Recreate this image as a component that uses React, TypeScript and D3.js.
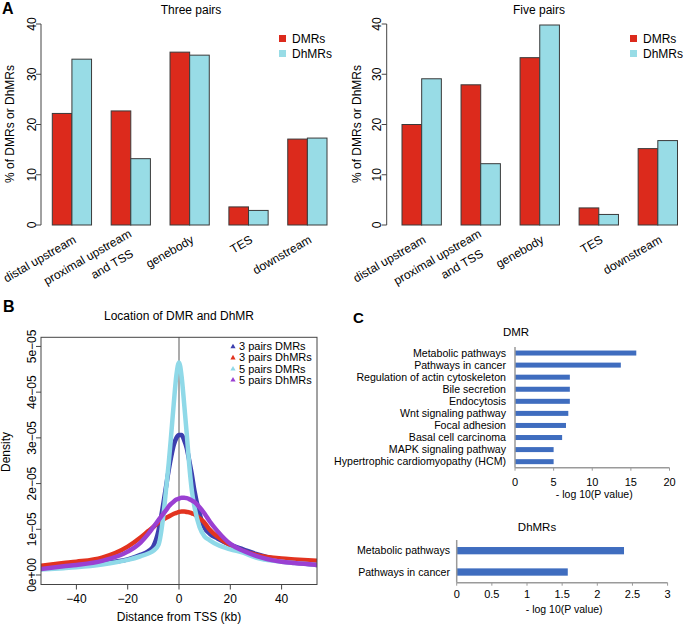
import React, { useEffect } from 'react';
import * as d3 from 'd3';

// ---------- Panel A data ----------
const regionCats = ['distal upstream', 'proximal upstream\nand TSS', 'genebody', 'TES', 'downstream'];
const regionSeries = ['DMRs', 'DhMRs'];
const threePairsDMR = [22.2, 22.7, 34.4, 3.6, 17.1];
const threePairsDhMR = [33.0, 13.2, 33.8, 2.9, 17.3];
const fivePairsDMR = [20.0, 27.9, 33.3, 3.4, 15.2];
const fivePairsDhMR = [29.1, 12.2, 39.8, 2.1, 16.8];
const pctTicks = [0, 10, 20, 30, 40];

// ---------- Panel B data (density in units of 1e-5) ----------
const tssDistanceKb = [-54, -45, -40, -30, -20, -15, -12, -10, -8, -6, -5, -4, -3, -2, -1, 0, 1, 2, 3, 4, 5, 6, 8, 10, 12, 15, 20, 25, 30, 40, 45, 54];
const dens3PairsDMR = [0.15, 0.19, 0.21, 0.26, 0.34, 0.44, 0.52, 0.63, 0.97, 1.6, 1.95, 2.3, 2.6, 2.85, 3.0, 3.06, 3.06, 2.95, 2.78, 2.5, 2.2, 1.85, 1.35, 1.03, 0.9, 0.8, 0.66, 0.56, 0.46, 0.32, 0.28, 0.22];
const dens3PairsDhMR = [0.20, 0.26, 0.29, 0.38, 0.62, 0.82, 0.96, 1.05, 1.15, 1.22, 1.25, 1.28, 1.31, 1.34, 1.36, 1.38, 1.39, 1.39, 1.38, 1.37, 1.35, 1.33, 1.24, 1.14, 0.99, 0.84, 0.65, 0.52, 0.44, 0.36, 0.34, 0.31];
const dens5PairsDMR = [0.12, 0.15, 0.17, 0.23, 0.33, 0.41, 0.47, 0.53, 0.66, 1.35, 1.9, 2.45, 3.1, 3.78, 4.38, 4.65, 4.35, 3.75, 3.1, 2.4, 1.85, 1.5, 1.05, 0.84, 0.76, 0.66, 0.56, 0.49, 0.38, 0.29, 0.26, 0.22];
const dens5PairsDhMR = [0.13, 0.19, 0.22, 0.31, 0.51, 0.71, 0.9, 1.05, 1.2, 1.35, 1.42, 1.5, 1.56, 1.61, 1.65, 1.67, 1.69, 1.69, 1.68, 1.66, 1.63, 1.6, 1.48, 1.34, 1.17, 0.96, 0.68, 0.53, 0.42, 0.29, 0.26, 0.22];
const densSeriesNames = ['3 pairs DMRs', '3 pairs DhMRs', '5 pairs DMRs', '5 pairs DhMRs'];
const densTicks = [0, 1, 2, 3, 4, 5];
const densTickLabels = ['0e+00', '1e\u221205', '2e\u221205', '3e\u221205', '4e\u221205', '5e\u221205'];
const distTicks = [-40, -20, 0, 20, 40];

// ---------- Panel C data ----------
const dmrPathways = ['Metabolic pathways', 'Pathways in cancer', 'Regulation of actin cytoskeleton', 'Bile secretion', 'Endocytosis', 'Wnt signaling pathway', 'Focal adhesion', 'Basal cell carcinoma', 'MAPK signaling pathway', 'Hypertrophic cardiomyopathy (HCM)'];
const dmrLogP = [15.7, 13.7, 7.1, 7.1, 7.1, 6.9, 6.6, 6.1, 5.0, 5.0];
const dmrTicks = [0, 5, 10, 15, 20];
const dhmrPathways = ['Metabolic pathways', 'Pathways in cancer'];
const dhmrLogP = [2.38, 1.58];
const dhmrTicks = [0, 0.5, 1, 1.5, 2, 2.5, 3];

const FONT = '"Liberation Sans", Arial, Helvetica, sans-serif';
const RED = '#dc2a1c';
const CYAN = '#98dce6';
const BAR_STROKE = '#3a3a3a';
const CBLUE = '#3f6dbf';
const densColors = ['#3d3fae', '#e2331f', '#8fd9e8', '#9a40d2'];

function RegionBars(props: { x0: number; x1: number; axisX: number; labelX: number; title: string; titleX: number; dmr: number[]; dhmr: number[]; legendX: number }) {
  const { x0, x1, axisX, labelX, title, titleX, dmr, dhmr, legendX } = props;
  const y = d3.scaleLinear().domain([0, 40]).range([225, 24]);
  const xg = d3.scaleBand<string>().domain(regionCats).range([x0, x1]).paddingInner(1 / 3).paddingOuter(0);
  const xs = d3.scaleBand<string>().domain(regionSeries).range([0, xg.bandwidth()]);
  const vals = [dmr, dhmr];
  const cols = [RED, CYAN];
  return (
    <g>
      <text x={titleX} y={14} textAnchor="middle" fontSize={12}>{title}</text>
      {regionCats.map((c, i) =>
        vals.map((v, s) => (
          <rect key={c + s} x={(xg(c) as number) + (xs(regionSeries[s]) as number)} y={y(v[i])}
            width={xs.bandwidth()} height={y(0) - y(v[i])} fill={cols[s]} stroke={BAR_STROKE} strokeWidth={1} />
        ))
      )}
      <line x1={axisX} x2={axisX} y1={y(0)} y2={y(40)} stroke="#444" strokeWidth={1} />
      {pctTicks.map((t) => (
        <g key={t}>
          <line x1={axisX - 5} x2={axisX} y1={y(t)} y2={y(t)} stroke="#444" strokeWidth={1} />
          <text transform={`translate(${axisX - 5.5},${y(t)}) rotate(-90)`} textAnchor="middle" fontSize={12}>{t}</text>
        </g>
      ))}
      <text transform={`translate(${labelX},124) rotate(-90)`} textAnchor="middle" fontSize={12}>% of DMRs or DhMRs</text>
      {regionCats.map((c) => {
        const cx = (xg(c) as number) + xg.bandwidth() / 2;
        const lines = c.split('\n');
        if (lines.length === 1) {
          return <text key={c} transform={`translate(${cx + 5},242) rotate(-30)`} textAnchor="end" fontSize={12}>{c}</text>;
        }
        return (
          <g key={c}>
            <text transform={`translate(${cx + 1.5},236) rotate(-30)`} textAnchor="end" fontSize={12}>{lines[0]}</text>
            <text transform={`translate(${cx + 3.5},256) rotate(-30)`} textAnchor="end" fontSize={12}>{lines[1]}</text>
          </g>
        );
      })}
      {regionSeries.map((s, i) => (
        <g key={s}>
          <rect x={legendX} y={35 + i * 15} width={7} height={7} fill={cols[i]} />
          <text x={legendX + 13} y={42.5 + i * 15} fontSize={12}>{s}</text>
        </g>
      ))}
    </g>
  );
}

function DensityPanel() {
  const left = 41, right = 317, top = 337.3, bottom = 584.5;
  const x = d3.scaleLinear().domain([-53.8, 53.8]).range([left, right]);
  const y = d3.scaleLinear().domain([-0.208, 5.2]).range([bottom, top]);
  const series = [dens3PairsDMR, dens3PairsDhMR, dens5PairsDMR, dens5PairsDhMR];
  const line = d3.line<number>().x((_, i) => x(tssDistanceKb[i])).y((d) => y(d)).curve(d3.curveMonotoneX);
  return (
    <g>
      <defs>
        <clipPath id="bclip"><rect x={left} y={top} width={right - left} height={bottom - top} /></clipPath>
      </defs>
      <text x={179} y={320} textAnchor="middle" fontSize={12}>Location of DMR and DhMR</text>
      <line x1={x(0)} x2={x(0)} y1={top} y2={bottom} stroke="#ababab" strokeWidth={2} />
      <g clipPath="url(#bclip)">
        {series.map((s, i) => (
          <path key={i} d={line(s) as string} fill="none" stroke={densColors[i]} strokeWidth={4.5} strokeLinejoin="round" strokeLinecap="round" />
        ))}
      </g>
      <rect x={left} y={top} width={right - left} height={bottom - top} fill="none" stroke="#444" strokeWidth={1} />
      {densTicks.map((t, i) => (
        <g key={t}>
          <line x1={left - 5} x2={left} y1={y(t)} y2={y(t)} stroke="#444" />
          <text transform={`translate(${left - 5.5},${y(t)}) rotate(-90)`} textAnchor="middle" fontSize={12}>{densTickLabels[i]}</text>
        </g>
      ))}
      {distTicks.map((t) => (
        <g key={t}>
          <line x1={x(t)} x2={x(t)} y1={bottom} y2={bottom + 5} stroke="#444" />
          <text x={x(t)} y={603} textAnchor="middle" fontSize={12}>{t < 0 ? '\u2212' + Math.abs(t) : t}</text>
        </g>
      ))}
      <text x={179} y={621} textAnchor="middle" fontSize={12}>Distance from TSS (kb)</text>
      <text transform={`translate(10,452) rotate(-90)`} textAnchor="middle" fontSize={12}>Density</text>
      {densSeriesNames.map((n, i) => {
        const by = 350.3 + i * 11.1;
        const tx = 233, ty = by - 4;
        return (
          <g key={n}>
            <path d={`M${tx},${ty - 2.6} L${tx + 2.6},${ty + 2} L${tx - 2.6},${ty + 2} Z`} fill={densColors[i]} />
            <text x={239} y={by} fontSize={11}>{n}</text>
          </g>
        );
      })}
    </g>
  );
}

function PathwayBars(props: { names: string[]; values: number[]; ticks: number[]; x0: number; x1: number; yTop: number; yBottom: number; barH: number; labelX: number; title: string; titleX: number; titleY: number; tickY: number; axisTitleY: number; tickFmt: (v: number) => string }) {
  const { names, values, ticks, x0, x1, yTop, yBottom, barH, labelX, title, titleX, titleY, tickY, axisTitleY, tickFmt } = props;
  const x = d3.scaleLinear().domain([0, ticks[ticks.length - 1]]).range([x0, x1]);
  const y = d3.scaleBand<string>().domain(names).range([yTop, yBottom]);
  return (
    <g>
      <text x={titleX} y={titleY} textAnchor="middle" fontSize={11.5}>{title}</text>
      {names.map((n, i) => {
        const cy = (y(n) as number) + y.bandwidth() / 2;
        return (
          <g key={n}>
            <rect x={x(0)} y={cy - barH / 2} width={x(values[i]) - x(0)} height={barH} fill={CBLUE} />
            <text x={labelX} y={cy + 3.8} textAnchor="end" fontSize={10.6}>{n}</text>
          </g>
        );
      })}
      <line x1={x0} x2={x0} y1={yTop} y2={yBottom} stroke="#9a9a9a" strokeWidth={1.5} />
      <line x1={x0} x2={x1} y1={yBottom} y2={yBottom} stroke="#9a9a9a" strokeWidth={1.5} />
      {ticks.map((t) => (
        <g key={t}>
          <line x1={x(t)} x2={x(t)} y1={yBottom} y2={yBottom + 3} stroke="#9a9a9a" strokeWidth={1} />
          <text x={x(t)} y={tickY} textAnchor="middle" fontSize={11}>{tickFmt(t)}</text>
        </g>
      ))}
      <text x={(x0 + x1) / 2 + 2} y={axisTitleY} textAnchor="middle" fontSize={10.5}>- log 10(P value)</text>
    </g>
  );
}

export default function App() {
  useEffect(() => {
    document.body.style.margin = '0';
  }, []);
  return (
    <svg width={685} height={626} viewBox="0 0 685 626" style={{ display: 'block', position: 'absolute', left: 0, top: 0, background: '#fff' }} fontFamily={FONT}>
      <rect x={0} y={0} width={685} height={626} fill="#fff" />
      <text x={2} y={14} fontSize={16} fontWeight="bold">A</text>
      <text x={3} y={312} fontSize={16} fontWeight="bold">B</text>
      <text x={353} y={323} fontSize={15} fontWeight="bold">C</text>
      <RegionBars x0={52.3} x1={327} axisX={41} labelX={14} title="Three pairs" titleX={191} dmr={threePairsDMR} dhmr={threePairsDhMR} legendX={279} />
      <RegionBars x0={402} x1={677.5} axisX={386.7} labelX={361} title="Five pairs" titleX={539} dmr={fivePairsDMR} dhmr={fivePairsDhMR} legendX={630} />
      <DensityPanel />
      <PathwayBars names={dmrPathways} values={dmrLogP} ticks={dmrTicks} x0={515} x1={669.5} yTop={347} yBottom={467.7} barH={5}
        labelX={506} title="DMR" titleX={516} titleY={335.7} tickY={486} axisTitleY={498} tickFmt={(v) => String(v)} />
      <PathwayBars names={dhmrPathways} values={dhmrLogP} ticks={dhmrTicks} x0={456.7} x1={667.6} yTop={540} yBottom={582.7} barH={7.3}
        labelX={450} title="DhMRs" titleX={537} titleY={530.5} tickY={597.5} axisTitleY={613} tickFmt={(v) => String(v)} />
    </svg>
  );
}
